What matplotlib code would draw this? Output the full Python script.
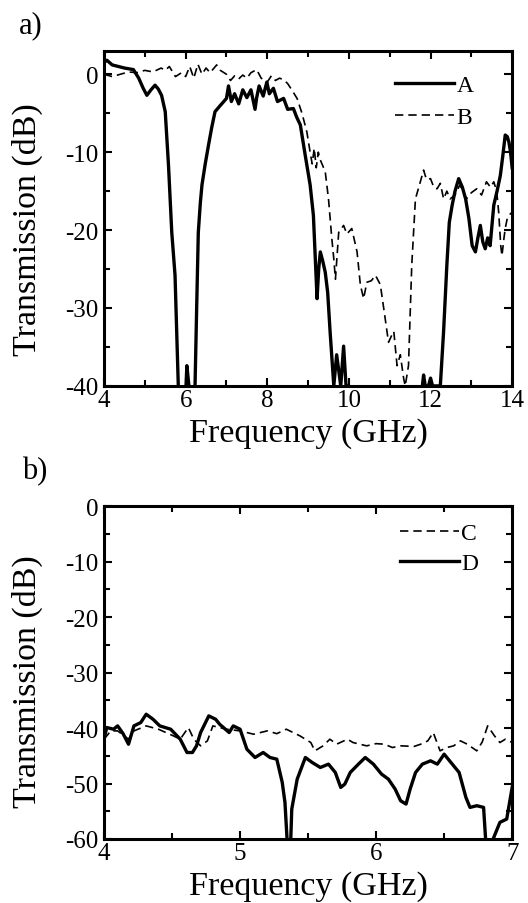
import numpy as np
import matplotlib
matplotlib.use("Agg")
import matplotlib.pyplot as plt
from matplotlib.ticker import MultipleLocator

plt.rcParams['font.family'] = ['Liberation Serif', 'DejaVu Serif']
plt.rcParams['axes.unicode_minus'] = False

# panel a) curve A (solid)
freq_a = [4.0, 4.07, 4.2, 4.35, 4.5, 4.72, 4.85, 4.96, 5.05, 5.15, 5.25, 5.33, 5.41, 5.5, 5.58,
          5.66, 5.74, 5.82, 5.9, 5.97, 6.03, 6.08, 6.15, 6.23, 6.27, 6.31, 6.36, 6.4, 6.48, 6.56,
          6.64, 6.72, 6.85, 7.0, 7.05, 7.12, 7.2, 7.3, 7.4, 7.5, 7.6, 7.7, 7.74, 7.8, 7.9, 7.99,
          8.05, 8.15, 8.25, 8.4, 8.5, 8.64, 8.72, 8.81, 8.93, 9.05, 9.13, 9.22, 9.26, 9.3, 9.36,
          9.42, 9.48, 9.54, 9.63, 9.7, 9.8, 9.87, 9.93, 10.0, 10.5, 11.0, 11.7, 11.8, 11.83,
          11.87, 11.95, 12.0, 12.05, 12.24, 12.32, 12.4, 12.46, 12.53, 12.6, 12.69, 12.78, 12.86,
          12.94, 13.02, 13.1, 13.16, 13.22, 13.28, 13.34, 13.4, 13.46, 13.55, 13.63, 13.71,
          13.77, 13.83, 13.88, 13.92, 13.96, 14.0]
trans_a = [1.5, 1.8, 1.2, 1.0, 0.8, 0.6, -0.5, -1.8, -2.7, -2.0, -1.4, -1.9, -2.7, -4.8, -11.7,
           -20.3, -25.8, -40.0, -45.0, -45.0, -37.4, -40.0, -45.0, -40.0, -30.0, -20.3, -16.5,
           -14.2, -11.5, -9.1, -6.8, -4.8, -4.0, -3.1, -1.5, -3.5, -2.5, -3.8, -2.0, -3.0, -2.0,
           -4.5, -3.0, -1.5, -2.8, -1.0, -2.5, -1.8, -3.5, -3.1, -4.5, -4.4, -5.5, -6.5, -10.4,
           -14.2, -18.1, -28.8, -25.0, -22.8, -24.0, -25.4, -28.0, -33.1, -40.0, -36.0, -40.0,
           -34.9, -40.0, -40.0, -45.0, -45.0, -45.0, -40.0, -38.6, -40.0, -40.0, -39.0, -40.0,
           -40.0, -33.0, -24.5, -19.0, -16.8, -15.0, -13.4, -14.5, -16.0, -18.5, -22.0, -22.8,
           -21.0, -19.4, -21.5, -22.4, -21.0, -22.0, -16.8, -15.0, -13.0, -10.5, -7.8, -8.0,
           -8.7, -10.0, -12.0]

# panel a) curve B (dashed)
freq_b = [4.0, 4.2, 4.4, 4.6, 4.8, 5.0, 5.2, 5.4, 5.5, 5.6, 5.75, 5.9, 6.0, 6.1, 6.2, 6.3, 6.4,
          6.5, 6.6, 6.76, 6.85, 7.0, 7.1, 7.2, 7.3, 7.4, 7.5, 7.6, 7.74, 7.85, 8.0, 8.1, 8.2,
          8.3, 8.4, 8.5, 8.6, 8.73, 8.85, 8.97, 9.05, 9.1, 9.15, 9.2, 9.25, 9.3, 9.42, 9.5,
          9.58, 9.63, 9.67, 9.75, 9.87, 9.95, 10.07, 10.2, 10.28, 10.36, 10.44, 10.55, 10.65,
          10.77, 10.89, 10.97, 11.05, 11.1, 11.18, 11.26, 11.34, 11.38, 11.46, 11.54, 11.63,
          11.75, 11.83, 11.9, 12.0, 12.08, 12.16, 12.24, 12.32, 12.4, 12.48, 12.6, 12.72, 12.8,
          12.88, 13.0, 13.13, 13.25, 13.37, 13.47, 13.55, 13.62, 13.67, 13.72, 13.75, 13.8,
          13.83, 13.88, 13.92, 14.0]
trans_b = [0.0, -0.3, 0.0, 0.3, 0.2, 0.5, 0.3, 0.8, 0.5, 1.0, -0.3, 0.2, -0.3, 1.0, -0.5, 1.3,
           0.0, 0.8, 0.2, 1.2, 0.5, 0.0, -0.8, -0.2, -0.6, -0.1, -0.5, 0.2, 0.6, -0.5, -1.0,
           -0.2, -0.8, -0.5, -0.7, -1.2, -2.0, -3.1, -5.0, -7.4, -10.0, -11.5, -9.5, -12.0,
           -10.0, -11.0, -12.5, -16.0, -21.0, -23.7, -26.3, -20.3, -19.4, -20.5, -19.8, -22.8,
           -27.0, -28.8, -26.7, -26.5, -25.8, -27.0, -31.4, -34.4, -33.5, -33.0, -37.4, -36.0,
           -39.0, -40.0, -37.4, -24.5, -16.0, -13.8, -12.3, -13.5, -13.4, -14.5, -14.7, -14.0,
           -16.0, -15.0, -16.0, -15.5, -14.2, -15.0, -16.0, -15.2, -14.7, -15.5, -13.8, -14.5,
           -13.8, -15.0, -17.7, -22.0, -23.3, -21.0, -19.8, -18.5, -18.1, -17.7]

# panel b) curve C (dashed)
freq_c = [4.0, 4.05, 4.1, 4.18, 4.22, 4.31, 4.4, 4.51, 4.56, 4.62, 4.66, 4.71, 4.76, 4.8, 4.9,
          5.0, 5.1, 5.2, 5.27, 5.34, 5.44, 5.52, 5.55, 5.61, 5.66, 5.71, 5.79, 5.83, 5.88, 5.93,
          6.0, 6.06, 6.12, 6.18, 6.28, 6.34, 6.38, 6.42, 6.47, 6.52, 6.57, 6.62, 6.67, 6.74,
          6.78, 6.82, 6.87, 6.91, 6.95, 7.0]
trans_c = [-42.0, -40.5, -40.5, -42.0, -40.5, -39.6, -40.2, -41.4, -42.0, -39.9, -42.0, -43.2,
           -42.3, -39.6, -40.2, -40.5, -41.1, -40.5, -41.0, -40.2, -41.4, -42.6, -44.1, -43.2,
           -42.0, -42.9, -42.0, -42.6, -42.9, -43.2, -42.8, -42.9, -43.5, -43.2, -43.3, -42.8,
           -42.3, -40.8, -44.1, -43.5, -43.2, -42.3, -42.9, -44.1, -42.5, -39.6, -41.4, -42.6,
           -42.0, -42.6]

# panel b) curve D (solid)
freq_d = [4.0, 4.02, 4.07, 4.1, 4.14, 4.18, 4.22, 4.27, 4.31, 4.36, 4.41, 4.49, 4.56, 4.61,
          4.65, 4.68, 4.71, 4.77, 4.82, 4.85, 4.92, 4.95, 5.0, 5.05, 5.11, 5.17, 5.22, 5.27,
          5.31, 5.33, 5.35, 5.37, 5.38, 5.42, 5.48, 5.53, 5.59, 5.65, 5.7, 5.74, 5.77, 5.81,
          5.87, 5.92, 5.98, 6.04, 6.09, 6.14, 6.18, 6.22, 6.25, 6.29, 6.34, 6.4, 6.45, 6.5,
          6.55, 6.61, 6.66, 6.69, 6.74, 6.79, 6.81, 6.83, 6.87, 6.91, 6.96, 7.0]
trans_d = [-42.0, -39.9, -40.2, -39.6, -41.0, -42.9, -39.6, -39.0, -37.5, -38.4, -39.6, -40.2,
           -42.0, -44.4, -44.4, -43.2, -40.8, -37.8, -38.4, -39.3, -40.8, -39.6, -40.2, -43.8,
           -45.3, -44.4, -45.3, -45.6, -49.8, -53.4, -62.0, -62.0, -54.6, -49.2, -45.3, -46.2,
           -47.1, -46.5, -48.0, -50.7, -50.1, -48.0, -46.5, -45.3, -46.5, -48.3, -49.2, -51.0,
           -53.1, -53.7, -51.0, -48.0, -46.5, -45.9, -46.5, -44.7, -46.2, -48.0, -52.5, -54.3,
           -54.0, -54.3, -62.0, -62.0, -59.4, -57.0, -56.4, -50.7]


def style_axes(ax, ylab_y):
    for s in ax.spines.values():
        s.set_linewidth(2.2)
    ax.tick_params(which='both', direction='in', top=True, right=True, width=1.5,
                   labelsize=18)
    ax.tick_params(axis='x', pad=2)
    ax.tick_params(axis='y', pad=4)
    ax.tick_params(which='major', length=6)
    ax.tick_params(which='minor', length=4)
    ax.set_xlabel('Frequency (GHz)', fontsize=24.5)
    ax.set_ylabel('Transmission (dB)', fontsize=24.5)
    ax.xaxis.set_label_coords(0.5, -0.094)
    ax.yaxis.set_label_coords(-0.15, ylab_y)


fig = plt.figure(figsize=(5.28, 9.04), dpi=100)

ax1 = fig.add_axes([0.197, 0.572, 0.773, 0.3706])
ax1.plot(freq_a, trans_a, color='black', lw=2.4, label='A')
ax1.plot(freq_b, trans_b, color='black', lw=1.2, ls=(0, (5, 3)), label='B')
ax1.set_xlim(4, 14)
ax1.set_ylim(-40, 3)
ax1.xaxis.set_major_locator(MultipleLocator(2))
ax1.xaxis.set_minor_locator(MultipleLocator(1))
ax1.yaxis.set_major_locator(MultipleLocator(10))
ax1.yaxis.set_minor_locator(MultipleLocator(5))
style_axes(ax1, 0.47)
ax1.legend(loc='upper right', bbox_to_anchor=(0.963, 1.0), frameon=False, fontsize=17,
           handlelength=2.5, handletextpad=0.1, labelspacing=0.45, borderaxespad=0.6)

ax2 = fig.add_axes([0.197, 0.0708, 0.773, 0.368])
ax2.plot(freq_c, trans_c, color='black', lw=1.2, ls=(0, (5, 3)), label='C')
ax2.plot(freq_d, trans_d, color='black', lw=2.4, label='D')
ax2.set_xlim(4, 7)
ax2.set_ylim(-60, 0)
ax2.xaxis.set_major_locator(MultipleLocator(1))
ax2.xaxis.set_minor_locator(MultipleLocator(0.5))
ax2.yaxis.set_major_locator(MultipleLocator(10))
ax2.yaxis.set_minor_locator(MultipleLocator(5))
style_axes(ax2, 0.475)
ax2.legend(loc='upper right', bbox_to_anchor=(0.975, 1.021), frameon=False, fontsize=17,
           handlelength=2.5, handletextpad=0.1, labelspacing=0.35, borderaxespad=0.6)

fig.text(0.036, 0.988, 'a)', fontsize=22, va='top')
fig.text(0.042, 0.494, 'b)', fontsize=22, va='top')

fig.savefig('out.png', dpi=100)
